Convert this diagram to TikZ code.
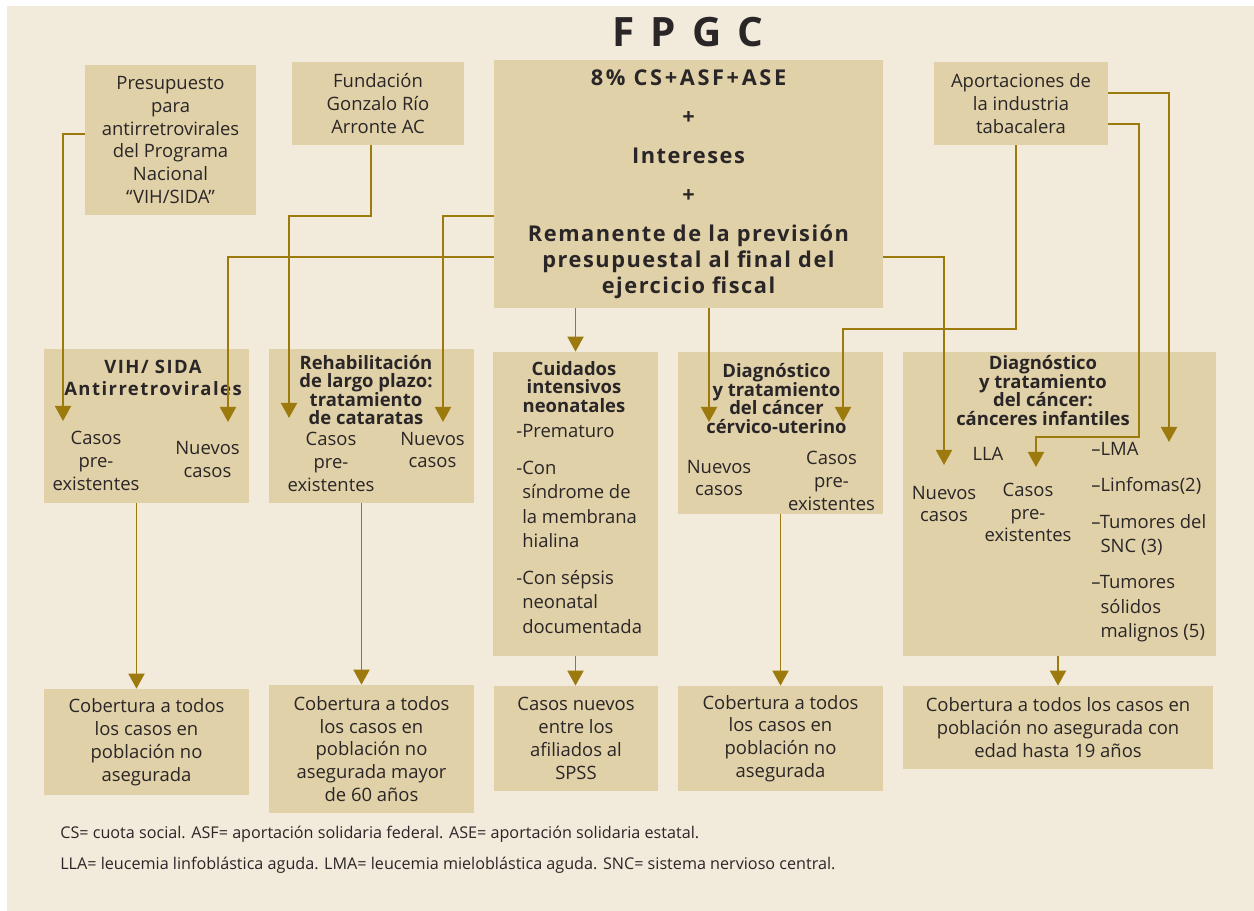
\documentclass[tikz,border=0pt]{standalone}
\usepackage{fontspec}
\setmainfont{Open Sans}
\usetikzlibrary{arrows.meta,calc}
\definecolor{fpgcfondo}{RGB}{242,234,219}
\definecolor{fpgccaja}{RGB}{224,209,168}
\definecolor{fpgcoro}{RGB}{156,122,14}
\definecolor{fpgctinta}{RGB}{42,38,39}

\begin{document}
\begin{tikzpicture}[
  x=0.02cm, y=-0.02cm,
  caja/.style={fill=fpgccaja, inner sep=0pt, align=center, text=fpgctinta,
               font=\fontsize{10.5}{13}\selectfont},
  txt/.style={inner sep=0pt, align=center, text=fpgctinta,
              font=\fontsize{10.5}{13}\selectfont},
  cab/.style={inner sep=0pt, align=center, text=fpgctinta,
              font=\bfseries\fontsize{10.5}{10.6}\selectfont},
  lista/.style={inner sep=0pt, align=left, anchor=west, text=fpgctinta,
                font=\fontsize{10.5}{14}\selectfont},
  nota/.style={inner sep=0pt, anchor=west, text=fpgctinta,
               font=\fontsize{9.2}{10}\selectfont},
  linea/.style={draw=fpgcoro, line width=1.1pt},
  flecha/.style={linea, -{Triangle[width=0.32cm,length=0.3cm]}}
]
  % fondo
  \useasboundingbox (0,0) rectangle (1254,911);
  \fill[white] (0,0) rectangle (1254,911);
  \fill[fpgcfondo] (7,6) rectangle (1254,911);

  \node[inner sep=0pt, text=fpgctinta,
        font=\bfseries\fontsize{23}{24}\selectfont\addfontfeature{LetterSpace=14}]
        (titulo) at (688,32) {F P G C};

  % fuentes de financiamiento
  \node[caja, minimum width=3.42cm, minimum height=3.0cm] (pres) at (170.5,140)
       {Presupuesto\\para\\antirretrovirales\\del Programa\\Nacional\\“VIH/SIDA”};
  \node[caja, minimum width=3.44cm, minimum height=1.66cm] (fund) at (378,103.5)
       {Fundación\\Gonzalo Río\\Arronte AC};
  \node[caja, minimum width=7.78cm, minimum height=4.96cm,
        font=\bfseries\fontsize{12.4}{14.8}\selectfont\addfontfeature{LetterSpace=7}]
       (ctr) at (688.5,184)
       {{\addfontfeature{LetterSpace=12}8\% CS+ASF+ASE}\\[7.4pt] +\\[7.4pt] Intereses\\[7.4pt] +\\[7.4pt]
        Remanente de la previsión\\presupuestal al final del\\ejercicio fiscal};
  \node[caja, minimum width=3.48cm, minimum height=1.66cm] (apor) at (1021,103.5)
       {Aportaciones de\\la industria\\tabacalera};

  % intervenciones
  \node[caja, minimum width=4.1cm, minimum height=3.08cm] (vih) at (146.5,426) {};
  \node[caja, minimum width=4.1cm, minimum height=3.08cm] (reh) at (371.5,426) {};
  \node[caja, minimum width=3.3cm, minimum height=6.08cm] (cui) at (575.5,504) {};
  \node[caja, minimum width=4.1cm, minimum height=3.24cm] (cer) at (780.5,433) {};
  \node[caja, minimum width=6.26cm, minimum height=6.08cm] (inf) at (1059.5,504) {};

  \node[cab, font=\bfseries\fontsize{10.5}{12.5}\selectfont\addfontfeature{LetterSpace=8}]
       (vihcab) at (153,378) {VIH/ SIDA\\Antirretrovirales};
  \node[txt] (vihpre) at (96,461) {Casos\\pre-\\existentes};
  \node[txt] (vihnue) at (207.5,459.5) {Nuevos\\casos};

  \node[cab] (rehcab) at (366,390) {Rehabilitación\\de largo plazo:\\tratamiento\\de cataratas};
  \node[txt] (rehpre) at (331,462) {Casos\\pre-\\existentes};
  \node[txt] (rehnue) at (432.5,450) {Nuevos\\casos};

  \node[cab] (cuicab) at (574,387) {Cuidados\\intensivos\\neonatales};
  \node[lista] (cuilst) at (516,529)
       {-Prematuro\\[6.8pt]
        -Con\\\phantom{-}síndrome de\\\phantom{-}la membrana\\\phantom{-}hialina\\[6.8pt]
        -Con sépsis\\\phantom{-}neonatal\\\phantom{-}documentada};

  \node[cab] (cercab) at (776.5,398.5) {Diagnóstico\\y tratamiento\\del cáncer\\cérvico-uterino};
  \node[txt] (cernue) at (719,478) {Nuevos\\casos};
  \node[txt] (cerpre) at (831.5,481) {Casos\\pre-\\existentes};

  \node[cab] (infcab) at (1043,390.5) {Diagnóstico\\y tratamiento\\del cáncer:\\cánceres infantiles};
  \node[txt] (lla) at (988,454) {LLA};
  \node[txt] (infnue) at (944,504) {Nuevos\\casos};
  \node[txt] (infpre) at (1028,512.5) {Casos\\pre-\\existentes};
  \node[lista] (inflst) at (1091,542.5)
       {–LMA\\[6.5pt] –Linfomas(2)\\[6.5pt] –Tumores del\\\phantom{–}SNC (3)\\[6.5pt]
        –Tumores\\\phantom{–}sólidos\\\phantom{–}malignos (5)};

  % cobertura
  \node[caja, minimum width=4.1cm, minimum height=2.12cm] (b1) at (146.5,742)
       {Cobertura a todos\\los casos en\\población no\\asegurada};
  \node[caja, minimum width=4.1cm, minimum height=2.56cm] (b2) at (371.5,749)
       {Cobertura a todos\\los casos en\\población no\\asegurada mayor\\de 60 años};
  \node[caja, minimum width=3.28cm, minimum height=2.1cm] (b3) at (576,738.5)
       {Casos nuevos\\entre los\\afiliados al\\SPSS};
  \node[caja, minimum width=4.1cm, minimum height=2.1cm] (b4) at (780.5,738.5)
       {Cobertura a todos\\los casos en\\población no\\asegurada};
  \node[caja, minimum width=6.2cm, minimum height=1.66cm] (b5) at (1058,727.5)
       {Cobertura a todos los casos en\\población no asegurada con\\edad hasta 19 años};

  \node[nota] (nota1) at (60,834)
       {CS= cuota social. ASF= aportación solidaria federal. ASE= aportación solidaria estatal.};
  \node[nota] (nota2) at (60,865)
       {LLA= leucemia linfoblástica aguda. LMA= leucemia mieloblástica aguda. SNC= sistema nervioso central.};

  % puntas de flecha
  \coordinate (vihA) at (63,421);
  \coordinate (vihB) at (228,422);
  \coordinate (rehA) at (289,418);
  \coordinate (rehB) at (443,422);
  \coordinate (cerA) at (709,422);
  \coordinate (cerB) at (843,422);
  \coordinate (infA) at (944,465);
  \coordinate (infB) at (1036,467);
  \coordinate (infC) at (1169,442);
  \coordinate (infBk) at (1139,437);

  % conectores
  \draw[flecha] ($(pres.north west)!0.46!(pres.south west)$) -| (vihA);
  \draw[flecha] ($(ctr.north west)!0.795!(ctr.south west)$) -| (vihB);
  \draw[flecha] ([xshift=-.14cm]fund.south) -- ++(0,71) -| (rehA);
  \draw[flecha] ($(ctr.north west)!0.63!(ctr.south west)$) -| (rehB);
  \draw[flecha] (cui.north |- ctr.south) -- (cui.north);
  \draw[flecha] (cerA |- ctr.south) -- (cerA);
  \draw[flecha] ([xshift=-.1cm]apor.south) -- ++(0,184) -| (cerB);
  \draw[flecha] ($(ctr.north east)!0.795!(ctr.south east)$) -| (infA);
  \draw[flecha] ($(apor.north east)!0.75!(apor.south east)$) -| (infBk) -| (infB);
  \draw[flecha] ($(apor.north east)!0.373!(apor.south east)$) -| (infC);

  \draw[flecha] ([xshift=-.2cm]vih.south) -- ([xshift=-.2cm]b1.north);
  \draw[flecha] ([xshift=-.2cm]reh.south) -- ([xshift=-.2cm]b2.north);
  \draw[flecha] (cui.south) -- (cui.south |- b3.north);
  \draw[flecha] (cer.south) -- (cer.south |- b4.north);
  \draw[flecha] (b5.north |- inf.south) -- (b5.north);
\end{tikzpicture}
\end{document}
